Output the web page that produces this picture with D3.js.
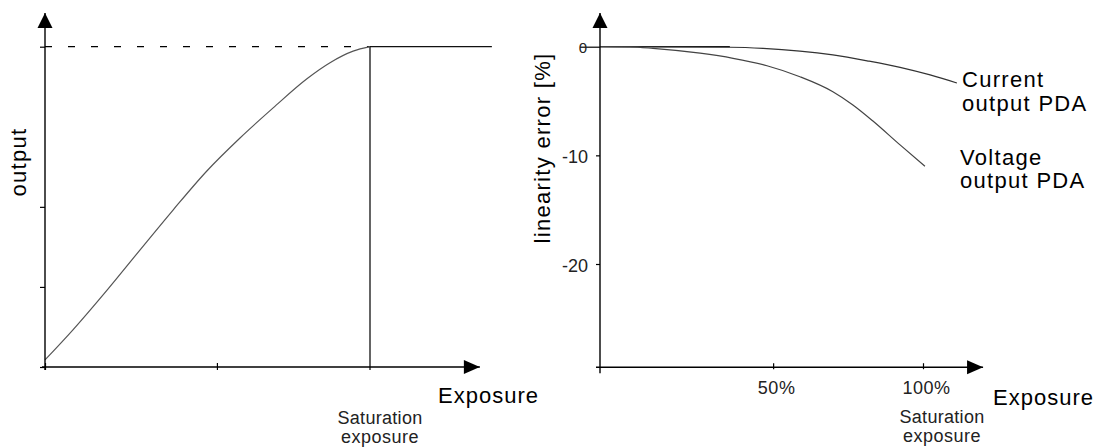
<!DOCTYPE html>
<html>
<head>
<meta charset="utf-8">
<script src="https://cdn.jsdelivr.net/npm/d3@7"></script>
<style>
	body { margin: 0; background: #fff; }
	svg { display: block; font-family: "Liberation Sans", Arial, sans-serif; }
</style>
</head>
<body>
<svg id="chart" width="1096" height="448"></svg>
<script>
// left panel: output against exposure, saturation exposure = 100
var outputExposure = [0, 8.6, 19.1, 29.2, 39.4, 49.8, 60, 70.2, 80.6, 87.7, 94.8, 100];
var outputValues   = [2.2, 11.6, 24, 36.5, 49, 61.2, 71.5, 80.9, 90, 95, 98.6, 100];
var outputFlatEnd = 137.5;
var outputAxisEnd = 133.8;
var outputTicksY = [0, 25, 50, 100];
var outputTicksX = [0, 52.9];

// right panel: linearity error [%] against exposure (the drawn ticks sit unevenly)
var currentExposure = [0, 40.2, 50.5, 61.9, 72.1, 82.7, 92.9, 102.2, 110.5];
var currentError    = [0, -0.05, -0.15, -0.4, -0.76, -1.3, -1.9, -2.6, -3.34];
var voltageExposure = [0, 9.3, 16.4, 31, 41.2, 51.7, 61.9, 72.1, 78.3, 84.5, 92.9, 100.6];
var voltageError    = [0, -0.02, -0.15, -0.6, -1.07, -1.75, -2.76, -4.14, -5.36, -6.84, -9.04, -11];
var errorTicks = [0, -10, -20];
var errorMin = -29.5;
var exposureTicks = [53.6, 100];
var exposureTickLabels = ["50%", "100%"];
var exposureAxisEnd = 118.6;

var svg = d3.select("#chart");

var xL = d3.scaleLinear().domain([0, 100]).range([45, 370]);
var yL = d3.scaleLinear().domain([0, 100]).range([367, 46.7]);
var xR = d3.scaleLinear().domain([0, 100]).range([600, 923]);
var yR = d3.scaleLinear().domain([0, -20]).range([46.7, 264]);

function zip(xs, ys) {
	return xs.map(function(x, i) { return [x, ys[i]]; });
}

// axis line with a filled arrow head at the far end
function arrowAxis(x1, y1, x2, y2) {
	svg.append("line")
		.attr("x1", x1).attr("y1", y1).attr("x2", x2).attr("y2", y2)
		.attr("stroke", "#000").attr("stroke-width", 1.4);
	var pts;
	if (x1 === x2) {
		pts = [[x2, y2], [x2 - 7.5, y2 + 15], [x2 + 7.5, y2 + 15]];
	} else {
		pts = [[x2, y2], [x2 - 16, y2 - 7], [x2 - 16, y2 + 7]];
	}
	svg.append("polygon")
		.attr("points", pts.map(function(p) { return p.join(","); }).join(" "))
		.attr("fill", "#000");
}

function label(x, y, text, size, anchor, spacing, color) {
	return svg.append("text")
		.attr("x", x).attr("y", y)
		.attr("font-size", size)
		.attr("text-anchor", anchor || "start")
		.attr("letter-spacing", spacing || 0)
		.attr("fill", color || "#000")
		.text(text);
}

function buildLeft() {
	var line = d3.line()
		.x(function(d) { return xL(d[0]); })
		.y(function(d) { return yL(d[1]); })
		.curve(d3.curveMonotoneX);

	// dashed level up to saturation, then flat
	svg.append("line")
		.attr("x1", xL(0)).attr("x2", xL(100))
		.attr("y1", yL(100)).attr("y2", yL(100))
		.attr("stroke", "#000").attr("stroke-width", 1.2)
		.attr("stroke-dasharray", "7,16");
	svg.append("line")
		.attr("x1", xL(100)).attr("x2", xL(outputFlatEnd))
		.attr("y1", yL(100)).attr("y2", yL(100))
		.attr("stroke", "#111").attr("stroke-width", 1.3);
	svg.append("line")
		.attr("x1", xL(100)).attr("x2", xL(100))
		.attr("y1", yL(100)).attr("y2", yL(0) + 3)
		.attr("stroke", "#111").attr("stroke-width", 1.3);

	svg.append("path")
		.attr("d", line(zip(outputExposure, outputValues)))
		.attr("fill", "none").attr("stroke", "#555").attr("stroke-width", 1.2);

	var yAxis = svg.append("g")
		.attr("transform", "translate(" + xL(0) + ",0)")
		.call(d3.axisLeft(yL).tickValues(outputTicksY).tickSize(5).tickFormat(""));
	yAxis.select(".domain").remove();
	yAxis.selectAll("line").attr("stroke-width", 1.2);

	var xAxis = svg.append("g")
		.attr("transform", "translate(0," + yL(0) + ")")
		.call(d3.axisBottom(xL).tickValues(outputTicksX).tickSize(3).tickFormat(""));
	xAxis.select(".domain").remove();
	xAxis.selectAll("line").attr("y1", -4).attr("stroke-width", 1.2);

	arrowAxis(xL(0), yL(0) + 3, xL(0), 13);
	arrowAxis(xL(0) - 3, yL(0), xL(outputAxisEnd), yL(0));

	label(0, 0, "output", 22, "middle", 1.3)
		.attr("transform", "translate(26,162) rotate(-90)");
	label(438, 403, "Exposure", 22, "start", 1);
	label(380, 424, "Saturation", 18, "middle", 0.3, "#222");
	label(380, 443, "exposure", 18, "middle", 0.5, "#222");
}

function buildRight() {
	var line = d3.line()
		.x(function(d) { return xR(d[0]); })
		.y(function(d) { return yR(d[1]); })
		.curve(d3.curveMonotoneX);

	svg.append("line")
		.attr("x1", xR(0)).attr("x2", xR(currentExposure[1]))
		.attr("y1", yR(0)).attr("y2", yR(0))
		.attr("stroke", "#111").attr("stroke-width", 1.2);

	svg.append("path")
		.attr("d", line(zip(currentExposure, currentError)))
		.attr("fill", "none").attr("stroke", "#333").attr("stroke-width", 1.2);
	svg.append("path")
		.attr("d", line(zip(voltageExposure, voltageError)))
		.attr("fill", "none").attr("stroke", "#444").attr("stroke-width", 1.2);

	var yAxis = svg.append("g")
		.attr("transform", "translate(" + xR(0) + ",0)")
		.call(d3.axisLeft(yR).tickValues(errorTicks).tickSize(4).tickPadding(8)
			.tickFormat(function(d) { return d === 0 ? "0" : d; }));
	yAxis.select(".domain").remove();
	yAxis.selectAll("line").attr("stroke-width", 1.2)
		.filter(function(d) { return d === 0; }).attr("x2", -20);
	yAxis.selectAll("text")
		.attr("font-size", 18).attr("fill", "#222")
		.attr("font-family", "\"Liberation Sans\", Arial, sans-serif")
		.attr("dy", "0.4em");
	yAxis.selectAll("text").filter(function(d) { return d === 0; })
		.attr("x", -13).attr("font-size", 15);

	var xAxis = svg.append("g")
		.attr("transform", "translate(0," + yR(errorMin) + ")")
		.call(d3.axisBottom(xR).tickValues(exposureTicks).tickSize(2).tickPadding(12)
			.tickFormat(function(d, i) { return exposureTickLabels[i]; }));
	xAxis.select(".domain").remove();
	xAxis.selectAll("line").attr("y1", -4).attr("stroke-width", 1.2);
	xAxis.selectAll("text")
		.attr("font-size", 18).attr("fill", "#222").attr("dx", 3)
		.attr("letter-spacing", 0.5)
		.attr("font-family", "\"Liberation Sans\", Arial, sans-serif");

	arrowAxis(xR(0), yR(errorMin) + 6, xR(0), 13);
	arrowAxis(xR(0) - 4, yR(errorMin), xR(exposureAxisEnd), yR(errorMin));

	label(0, 0, "linearity error [%]", 22, "middle", 1.3)
		.attr("transform", "translate(550,148) rotate(-90)");
	label(993, 405, "Exposure", 22, "start", 1);
	label(942, 423, "Saturation", 18, "middle", 0.3, "#222");
	label(942, 442, "exposure", 18, "middle", 0.5, "#222");

	label(962, 87, "Current", 22, "start", 1.3);
	label(962, 111, "output PDA", 22, "start", 1.3);
	label(960, 165, "Voltage", 22, "start", 1.3);
	label(960, 188, "output PDA", 22, "start", 1.3);
}

buildLeft();
buildRight();
</script>
</body>
</html>
